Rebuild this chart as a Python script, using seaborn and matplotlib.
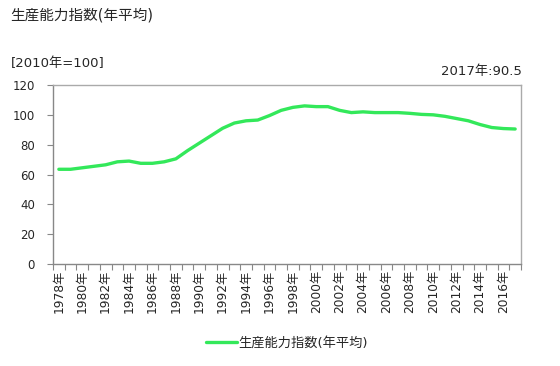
import matplotlib
matplotlib.use("Agg")
import matplotlib.pyplot as plt
import seaborn as sns
import pandas as pd
import numpy as np
from matplotlib.ticker import FixedLocator

years = [f"{y}年" for y in range(1978, 2018)]
values = [63.5, 63.5, 64.5, 65.5, 66.5, 68.5, 69.0, 67.5, 67.5, 68.5,
          70.5, 76.0, 81.0, 86.0, 91.0, 94.5, 96.0, 96.5, 99.5, 103.0,
          105.0, 106.0, 105.5, 105.5, 103.0, 101.5, 102.0, 101.5, 101.5, 101.5,
          101.0, 100.3, 100.0, 99.0, 97.5, 96.0, 93.5, 91.5, 90.8, 90.5]
series_name = "生産能力指数(年平均)"
yticks = [0, 20, 40, 60, 80, 100, 120]

sns.set_theme(style="white")
plt.rcParams['font.family'] = ['DejaVu Sans', 'Noto Sans CJK JP']

df = pd.DataFrame({"idx": np.arange(len(years)), "year": years, "value": values, "series": series_name})

fig = plt.figure(figsize=(5.6, 3.66), dpi=100)
ax = fig.add_axes([53/560, 1-264/366, (521-53)/560, (264-85)/366])
sns.lineplot(data=df, x="idx", y="value", hue="series", palette=["#33e85a"],
             linewidth=2.4, ax=ax, legend=True)

ax.set_xlim(-0.5, len(years)-0.5)
ax.set_ylim(0, 120)
ax.set_yticks(yticks)
ax.set_yticklabels([str(v) for v in yticks], fontsize=8.5)
ax.set_xticks(np.arange(0, len(years), 2))
ax.set_xticklabels(years[::2], rotation=90, fontsize=8.8)
ax.xaxis.set_minor_locator(FixedLocator(np.arange(-0.5, len(years), 1)))
ax.tick_params(axis='x', which='major', length=0, pad=4)
ax.tick_params(axis='x', which='minor', length=4, color='#888888', width=0.8, bottom=True)
ax.tick_params(axis='y', length=4, color='#888888', width=0.8, left=True, pad=9)
for lbl in ax.get_yticklabels():
    lbl.set_horizontalalignment('right')
ax.set_xlabel("")
ax.set_ylabel("")
for name, s in ax.spines.items():
    s.set_color('#888888' if name in ('left', 'bottom') else '#aaaaaa')
    s.set_linewidth(1.0)
ax.grid(False)

leg = ax.legend(loc='upper center', bbox_to_anchor=(0.5, -0.34), frameon=False,
                fontsize=9.5, handlelength=2.3, handletextpad=0.1)

fig.text(10/560, 1-15/366, "生産能力指数(年平均)", fontsize=10.5, va='center', ha='left')
fig.text(11/560, 1-64/366, "[2010年=100]", fontsize=9.5, va='center', ha='left')
fig.text(522/560, 1-72/366, "2017年:90.5", fontsize=9.5, va='center', ha='right')

fig.savefig("out.png", dpi=100)
